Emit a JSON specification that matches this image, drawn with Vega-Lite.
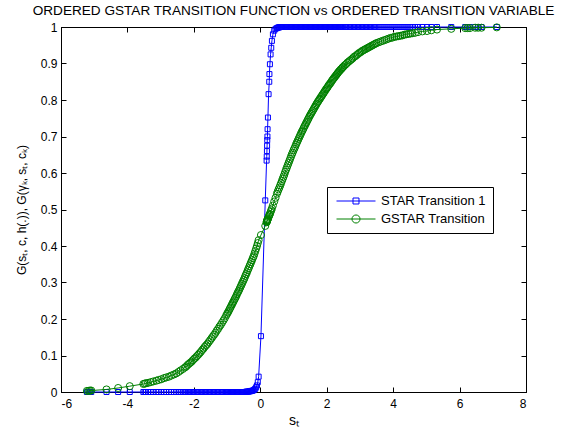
{
  "$schema": "https://vega.github.io/schema/vega-lite/v6.json",
  "width": 465,
  "height": 365,
  "autosize": {"type": "none"},
  "padding": {"left": 61, "top": 27, "right": 38, "bottom": 43},
  "background": "white",
  "config": {
    "font": "Liberation Sans",
    "view": {"stroke": "black", "strokeWidth": 1},
    "axis": {
      "grid": false,
      "domainColor": "black",
      "tickColor": "black",
      "labelColor": "black",
      "titleColor": "black",
      "labelFont": "Liberation Sans",
      "labelFontSize": 12,
      "tickSize": -5,
      "titleFont": "Liberation Sans",
      "titleFontWeight": "normal",
      "titleFontSize": 13
    }
  },
  "title": {
    "text": "ORDERED GSTAR TRANSITION FUNCTION vs ORDERED TRANSITION VARIABLE",
    "font": "Liberation Sans",
    "fontSize": 13.6,
    "fontWeight": "normal",
    "color": "black",
    "anchor": "middle",
    "baseline": "alphabetic",
    "offset": -8
  },
  "data": {
    "values": [
      {"s": -5.22, "star": 0, "gstar": 0.003},
      {"s": -5.17, "star": 0, "gstar": 0.003},
      {"s": -5.13, "star": 0, "gstar": 0.004},
      {"s": -5.09, "star": 0, "gstar": 0.004},
      {"s": -4.63, "star": 0, "gstar": 0.007},
      {"s": -4.28, "star": 0, "gstar": 0.011},
      {"s": -3.93, "star": 0, "gstar": 0.016},
      {"s": -3.52, "star": 0, "gstar": 0.022},
      {"s": -3.48, "star": 0, "gstar": 0.023},
      {"s": -3.44, "star": 0, "gstar": 0.024},
      {"s": -3.38, "star": 0, "gstar": 0.025},
      {"s": -3.30, "star": 0, "gstar": 0.027},
      {"s": -3.22, "star": 0, "gstar": 0.029},
      {"s": -3.13, "star": 0, "gstar": 0.031},
      {"s": -3.06, "star": 0, "gstar": 0.033},
      {"s": -2.98, "star": 0, "gstar": 0.035},
      {"s": -2.90, "star": 0, "gstar": 0.038},
      {"s": -2.83, "star": 0, "gstar": 0.040},
      {"s": -2.75, "star": 0, "gstar": 0.042},
      {"s": -2.68, "star": 0, "gstar": 0.045},
      {"s": -2.60, "star": 0, "gstar": 0.048},
      {"s": -2.53, "star": 0, "gstar": 0.051},
      {"s": -2.46, "star": 0, "gstar": 0.055},
      {"s": -2.40, "star": 0, "gstar": 0.059},
      {"s": -2.33, "star": 0, "gstar": 0.063},
      {"s": -2.27, "star": 0, "gstar": 0.067},
      {"s": -2.23, "star": 0, "gstar": 0.070},
      {"s": -2.19, "star": 0, "gstar": 0.074},
      {"s": -2.15, "star": 0, "gstar": 0.077},
      {"s": -2.11, "star": 0, "gstar": 0.080},
      {"s": -2.07, "star": 0, "gstar": 0.083},
      {"s": -2.03, "star": 0, "gstar": 0.087},
      {"s": -1.99, "star": 0, "gstar": 0.091},
      {"s": -1.95, "star": 0, "gstar": 0.094},
      {"s": -1.91, "star": 0, "gstar": 0.098},
      {"s": -1.87, "star": 0, "gstar": 0.102},
      {"s": -1.83, "star": 0, "gstar": 0.106},
      {"s": -1.79, "star": 0, "gstar": 0.110},
      {"s": -1.75, "star": 0, "gstar": 0.115},
      {"s": -1.71, "star": 0, "gstar": 0.119},
      {"s": -1.67, "star": 0, "gstar": 0.124},
      {"s": -1.63, "star": 0, "gstar": 0.128},
      {"s": -1.59, "star": 0, "gstar": 0.132},
      {"s": -1.55, "star": 0, "gstar": 0.137},
      {"s": -1.51, "star": 0, "gstar": 0.142},
      {"s": -1.47, "star": 0, "gstar": 0.147},
      {"s": -1.43, "star": 0, "gstar": 0.152},
      {"s": -1.39, "star": 0, "gstar": 0.157},
      {"s": -1.35, "star": 0, "gstar": 0.162},
      {"s": -1.31, "star": 0, "gstar": 0.168},
      {"s": -1.27, "star": 0, "gstar": 0.173},
      {"s": -1.23, "star": 0, "gstar": 0.179},
      {"s": -1.19, "star": 0, "gstar": 0.184},
      {"s": -1.15, "star": 0, "gstar": 0.190},
      {"s": -1.11, "star": 0, "gstar": 0.196},
      {"s": -1.07, "star": 0, "gstar": 0.202},
      {"s": -1.03, "star": 0, "gstar": 0.209},
      {"s": -1.000, "star": 0, "gstar": 0.214},
      {"s": -0.975, "star": 0, "gstar": 0.218},
      {"s": -0.950, "star": 0, "gstar": 0.222},
      {"s": -0.925, "star": 0, "gstar": 0.227},
      {"s": -0.900, "star": 0, "gstar": 0.231},
      {"s": -0.875, "star": 0, "gstar": 0.236},
      {"s": -0.850, "star": 0, "gstar": 0.240},
      {"s": -0.825, "star": 0, "gstar": 0.245},
      {"s": -0.800, "star": 0, "gstar": 0.249},
      {"s": -0.775, "star": 0, "gstar": 0.254},
      {"s": -0.750, "star": 0, "gstar": 0.258},
      {"s": -0.725, "star": 0, "gstar": 0.263},
      {"s": -0.700, "star": 0, "gstar": 0.268},
      {"s": -0.675, "star": 0, "gstar": 0.273},
      {"s": -0.650, "star": 0, "gstar": 0.277},
      {"s": -0.625, "star": 0, "gstar": 0.282},
      {"s": -0.600, "star": 0, "gstar": 0.287},
      {"s": -0.575, "star": 0, "gstar": 0.292},
      {"s": -0.550, "star": 0, "gstar": 0.297},
      {"s": -0.525, "star": 0, "gstar": 0.302},
      {"s": -0.500, "star": 0, "gstar": 0.307},
      {"s": -0.475, "star": 0, "gstar": 0.312},
      {"s": -0.450, "star": 0, "gstar": 0.318},
      {"s": -0.425, "star": 0.001, "gstar": 0.323},
      {"s": -0.400, "star": 0.001, "gstar": 0.328},
      {"s": -0.375, "star": 0.001, "gstar": 0.334},
      {"s": -0.350, "star": 0.001, "gstar": 0.339},
      {"s": -0.325, "star": 0.002, "gstar": 0.345},
      {"s": -0.300, "star": 0.002, "gstar": 0.350},
      {"s": -0.275, "star": 0.003, "gstar": 0.356},
      {"s": -0.250, "star": 0.003, "gstar": 0.361},
      {"s": -0.225, "star": 0.004, "gstar": 0.367},
      {"s": -0.200, "star": 0.005, "gstar": 0.372},
      {"s": -0.175, "star": 0.007, "gstar": 0.379},
      {"s": -0.150, "star": 0.009, "gstar": 0.386},
      {"s": -0.125, "star": 0.013, "gstar": 0.393},
      {"s": -0.100, "star": 0.018, "gstar": 0.400},
      {"s": -0.075, "star": 0.027, "gstar": 0.408},
      {"s": -0.050, "star": 0.042, "gstar": 0.416},
      {"s": 0.02, "star": 0.153, "gstar": 0.430},
      {"s": 0.15, "star": 0.525, "gstar": 0.455},
      {"s": 0.19, "star": 0.634, "gstar": 0.465},
      {"s": 0.195, "star": 0.645, "gstar": 0.466},
      {"s": 0.20, "star": 0.660, "gstar": 0.468},
      {"s": 0.205, "star": 0.675, "gstar": 0.469},
      {"s": 0.21, "star": 0.690, "gstar": 0.470},
      {"s": 0.215, "star": 0.700, "gstar": 0.471},
      {"s": 0.22, "star": 0.720, "gstar": 0.473},
      {"s": 0.23, "star": 0.752, "gstar": 0.475},
      {"s": 0.25, "star": 0.816, "gstar": 0.479},
      {"s": 0.27, "star": 0.850, "gstar": 0.484},
      {"s": 0.275, "star": 0.871, "gstar": 0.485},
      {"s": 0.29, "star": 0.898, "gstar": 0.488},
      {"s": 0.31, "star": 0.925, "gstar": 0.493},
      {"s": 0.33, "star": 0.943, "gstar": 0.498},
      {"s": 0.35, "star": 0.962, "gstar": 0.503},
      {"s": 0.38, "star": 0.980, "gstar": 0.511},
      {"s": 0.42, "star": 0.990, "gstar": 0.522},
      {"s": 0.46, "star": 0.995, "gstar": 0.532},
      {"s": 0.50, "star": 0.997, "gstar": 0.543},
      {"s": 0.525, "star": 0.998, "gstar": 0.549},
      {"s": 0.550, "star": 0.999, "gstar": 0.555},
      {"s": 0.575, "star": 0.999, "gstar": 0.560},
      {"s": 0.600, "star": 1, "gstar": 0.566},
      {"s": 0.625, "star": 1, "gstar": 0.572},
      {"s": 0.650, "star": 1, "gstar": 0.578},
      {"s": 0.675, "star": 1, "gstar": 0.584},
      {"s": 0.700, "star": 1, "gstar": 0.590},
      {"s": 0.725, "star": 1, "gstar": 0.596},
      {"s": 0.750, "star": 1, "gstar": 0.603},
      {"s": 0.775, "star": 1, "gstar": 0.609},
      {"s": 0.800, "star": 1, "gstar": 0.615},
      {"s": 0.825, "star": 1, "gstar": 0.621},
      {"s": 0.850, "star": 1, "gstar": 0.627},
      {"s": 0.875, "star": 1, "gstar": 0.633},
      {"s": 0.900, "star": 1, "gstar": 0.639},
      {"s": 0.925, "star": 1, "gstar": 0.645},
      {"s": 0.950, "star": 1, "gstar": 0.651},
      {"s": 0.975, "star": 1, "gstar": 0.656},
      {"s": 1.000, "star": 1, "gstar": 0.662},
      {"s": 1.025, "star": 1, "gstar": 0.667},
      {"s": 1.050, "star": 1, "gstar": 0.672},
      {"s": 1.075, "star": 1, "gstar": 0.678},
      {"s": 1.100, "star": 1, "gstar": 0.683},
      {"s": 1.125, "star": 1, "gstar": 0.688},
      {"s": 1.150, "star": 1, "gstar": 0.693},
      {"s": 1.175, "star": 1, "gstar": 0.698},
      {"s": 1.200, "star": 1, "gstar": 0.703},
      {"s": 1.225, "star": 1, "gstar": 0.708},
      {"s": 1.250, "star": 1, "gstar": 0.713},
      {"s": 1.275, "star": 1, "gstar": 0.717},
      {"s": 1.300, "star": 1, "gstar": 0.722},
      {"s": 1.325, "star": 1, "gstar": 0.727},
      {"s": 1.350, "star": 1, "gstar": 0.731},
      {"s": 1.375, "star": 1, "gstar": 0.736},
      {"s": 1.400, "star": 1, "gstar": 0.740},
      {"s": 1.425, "star": 1, "gstar": 0.745},
      {"s": 1.450, "star": 1, "gstar": 0.749},
      {"s": 1.475, "star": 1, "gstar": 0.754},
      {"s": 1.500, "star": 1, "gstar": 0.758},
      {"s": 1.525, "star": 1, "gstar": 0.762},
      {"s": 1.550, "star": 1, "gstar": 0.766},
      {"s": 1.575, "star": 1, "gstar": 0.770},
      {"s": 1.600, "star": 1, "gstar": 0.774},
      {"s": 1.625, "star": 1, "gstar": 0.778},
      {"s": 1.650, "star": 1, "gstar": 0.782},
      {"s": 1.675, "star": 1, "gstar": 0.786},
      {"s": 1.700, "star": 1, "gstar": 0.790},
      {"s": 1.725, "star": 1, "gstar": 0.794},
      {"s": 1.750, "star": 1, "gstar": 0.797},
      {"s": 1.775, "star": 1, "gstar": 0.801},
      {"s": 1.800, "star": 1, "gstar": 0.804},
      {"s": 1.825, "star": 1, "gstar": 0.808},
      {"s": 1.850, "star": 1, "gstar": 0.811},
      {"s": 1.875, "star": 1, "gstar": 0.815},
      {"s": 1.900, "star": 1, "gstar": 0.818},
      {"s": 1.925, "star": 1, "gstar": 0.822},
      {"s": 1.950, "star": 1, "gstar": 0.825},
      {"s": 1.975, "star": 1, "gstar": 0.829},
      {"s": 2.000, "star": 1, "gstar": 0.832},
      {"s": 2.025, "star": 1, "gstar": 0.835},
      {"s": 2.050, "star": 1, "gstar": 0.839},
      {"s": 2.075, "star": 1, "gstar": 0.842},
      {"s": 2.100, "star": 1, "gstar": 0.845},
      {"s": 2.125, "star": 1, "gstar": 0.848},
      {"s": 2.150, "star": 1, "gstar": 0.852},
      {"s": 2.175, "star": 1, "gstar": 0.855},
      {"s": 2.200, "star": 1, "gstar": 0.858},
      {"s": 2.225, "star": 1, "gstar": 0.861},
      {"s": 2.250, "star": 1, "gstar": 0.864},
      {"s": 2.275, "star": 1, "gstar": 0.867},
      {"s": 2.300, "star": 1, "gstar": 0.870},
      {"s": 2.325, "star": 1, "gstar": 0.873},
      {"s": 2.350, "star": 1, "gstar": 0.876},
      {"s": 2.375, "star": 1, "gstar": 0.879},
      {"s": 2.400, "star": 1, "gstar": 0.881},
      {"s": 2.425, "star": 1, "gstar": 0.884},
      {"s": 2.450, "star": 1, "gstar": 0.886},
      {"s": 2.475, "star": 1, "gstar": 0.889},
      {"s": 2.500, "star": 1, "gstar": 0.891},
      {"s": 2.54, "star": 1, "gstar": 0.895},
      {"s": 2.58, "star": 1, "gstar": 0.898},
      {"s": 2.62, "star": 1, "gstar": 0.902},
      {"s": 2.66, "star": 1, "gstar": 0.905},
      {"s": 2.70, "star": 1, "gstar": 0.908},
      {"s": 2.74, "star": 1, "gstar": 0.911},
      {"s": 2.78, "star": 1, "gstar": 0.914},
      {"s": 2.82, "star": 1, "gstar": 0.918},
      {"s": 2.86, "star": 1, "gstar": 0.920},
      {"s": 2.90, "star": 1, "gstar": 0.923},
      {"s": 2.94, "star": 1, "gstar": 0.926},
      {"s": 2.98, "star": 1, "gstar": 0.929},
      {"s": 3.02, "star": 1, "gstar": 0.931},
      {"s": 3.06, "star": 1, "gstar": 0.934},
      {"s": 3.10, "star": 1, "gstar": 0.936},
      {"s": 3.14, "star": 1, "gstar": 0.938},
      {"s": 3.18, "star": 1, "gstar": 0.940},
      {"s": 3.22, "star": 1, "gstar": 0.942},
      {"s": 3.26, "star": 1, "gstar": 0.944},
      {"s": 3.30, "star": 1, "gstar": 0.946},
      {"s": 3.34, "star": 1, "gstar": 0.948},
      {"s": 3.38, "star": 1, "gstar": 0.950},
      {"s": 3.42, "star": 1, "gstar": 0.952},
      {"s": 3.46, "star": 1, "gstar": 0.954},
      {"s": 3.50, "star": 1, "gstar": 0.956},
      {"s": 3.56, "star": 1, "gstar": 0.958},
      {"s": 3.62, "star": 1, "gstar": 0.960},
      {"s": 3.68, "star": 1, "gstar": 0.962},
      {"s": 3.74, "star": 1, "gstar": 0.964},
      {"s": 3.80, "star": 1, "gstar": 0.966},
      {"s": 3.86, "star": 1, "gstar": 0.968},
      {"s": 3.92, "star": 1, "gstar": 0.970},
      {"s": 3.98, "star": 1, "gstar": 0.971},
      {"s": 4.04, "star": 1, "gstar": 0.973},
      {"s": 4.10, "star": 1, "gstar": 0.974},
      {"s": 4.16, "star": 1, "gstar": 0.975},
      {"s": 4.22, "star": 1, "gstar": 0.976},
      {"s": 4.28, "star": 1, "gstar": 0.977},
      {"s": 4.34, "star": 1, "gstar": 0.979},
      {"s": 4.40, "star": 1, "gstar": 0.980},
      {"s": 4.46, "star": 1, "gstar": 0.981},
      {"s": 4.52, "star": 1, "gstar": 0.982},
      {"s": 4.58, "star": 1, "gstar": 0.983},
      {"s": 4.66, "star": 1, "gstar": 0.984},
      {"s": 4.75, "star": 1, "gstar": 0.986},
      {"s": 4.88, "star": 1, "gstar": 0.988},
      {"s": 5.02, "star": 1, "gstar": 0.989},
      {"s": 5.15, "star": 1, "gstar": 0.991},
      {"s": 5.32, "star": 1, "gstar": 0.993},
      {"s": 5.75, "star": 1, "gstar": 0.995},
      {"s": 6.17, "star": 1, "gstar": 0.997},
      {"s": 6.24, "star": 1, "gstar": 0.997},
      {"s": 6.31, "star": 1, "gstar": 0.997},
      {"s": 6.47, "star": 1, "gstar": 0.998},
      {"s": 6.56, "star": 1, "gstar": 0.998},
      {"s": 6.66, "star": 1, "gstar": 0.998},
      {"s": 7.12, "star": 1, "gstar": 0.999}
    ]
  },
  "layer": [
    {
      "mark": {"type": "line", "color": "#0000ff", "strokeWidth": 1},
      "encoding": {
        "x": {
          "field": "s", "type": "quantitative",
          "scale": {"domain": [-6, 8], "nice": false, "zero": false},
          "axis": {
            "values": [-6, -4, -2, 0, 2, 4, 6, 8],
            "title": "sₜ",
            "titleFontSize": 14,
            "labelExpr": "replace(datum.label, '−', '-')",
            "labelPadding": 11,
            "titlePadding": 4
          }
        },
        "y": {
          "field": "star", "type": "quantitative",
          "scale": {"domain": [0, 1], "nice": false, "zero": false},
          "axis": {
            "values": [0, 0.1, 0.2, 0.3, 0.4, 0.5, 0.6, 0.7, 0.8, 0.9, 1],
            "format": "~g",
            "title": "G(sₜ, c, h(.)),  G(γₖ, sₜ, cₖ)",
            "titleFontSize": 12,
            "labelPadding": 9,
            "titlePadding": 12
          }
        }
      }
    },
    {
      "mark": {"type": "point", "shape": "square", "filled": false, "color": "#0000ff", "size": 25, "strokeWidth": 1, "opacity": 1},
      "encoding": {
        "x": {"field": "s", "type": "quantitative", "axis": null},
        "y": {"field": "star", "type": "quantitative", "axis": null}
      }
    },
    {
      "mark": {"type": "line", "color": "#008000", "strokeWidth": 1},
      "encoding": {
        "x": {
          "field": "s", "type": "quantitative",
          "axis": {"orient": "top", "labels": false, "title": null, "values": [-6, -4, -2, 0, 2, 4, 6, 8]}
        },
        "y": {
          "field": "gstar", "type": "quantitative",
          "axis": {"orient": "right", "labels": false, "title": null, "values": [0, 0.1, 0.2, 0.3, 0.4, 0.5, 0.6, 0.7, 0.8, 0.9, 1]}
        }
      }
    },
    {
      "mark": {"type": "point", "shape": "circle", "filled": false, "color": "#008000", "size": 50, "strokeWidth": 1, "opacity": 1},
      "encoding": {
        "x": {"field": "s", "type": "quantitative", "axis": null},
        "y": {"field": "gstar", "type": "quantitative", "axis": null}
      }
    },
    {
      "transform": [{"fold": ["star", "gstar"], "as": ["series", "G"]}],
      "mark": {"type": "point", "filled": false, "opacity": 0, "size": 169, "strokeWidth": 1},
      "encoding": {
        "x": {"field": "s", "type": "quantitative", "axis": null},
        "y": {"field": "G", "type": "quantitative", "axis": null},
        "color": {
          "field": "series", "type": "nominal",
          "scale": {"domain": ["star", "gstar"], "range": ["#0000ff", "#008000"]},
          "legend": {
            "title": null,
            "orient": "none",
            "legendX": 266,
            "legendY": 160,
            "padding": 7,
            "rowPadding": 4,
            "symbolOffset": 15,
            "labelOffset": 18,
            "strokeColor": "black",
            "fillColor": "white",
            "labelFont": "Liberation Sans",
            "labelFontSize": 13,
            "labelColor": "black",
            "symbolOpacity": 1,
            "symbolStrokeWidth": 1,
            "symbolSize": 169,
            "labelExpr": "datum.label == 'star' ? 'STAR Transition 1' : 'GSTAR Transition'"
          }
        },
        "shape": {
          "field": "series", "type": "nominal",
          "scale": {
            "domain": ["star", "gstar"],
            "range": [
              "M-3,0H3M-0.46,-0.46H0.46V0.46H-0.46Z",
              "M-3,0H3M0.62,0A0.62,0.62 0 1 1 -0.62,0A0.62,0.62 0 1 1 0.62,0"
            ]
          },
          "legend": {
            "title": null,
            "orient": "none",
            "legendX": 266,
            "legendY": 160,
            "padding": 7,
            "rowPadding": 4,
            "symbolOffset": 15,
            "labelOffset": 18,
            "strokeColor": "black",
            "fillColor": "white",
            "labelFont": "Liberation Sans",
            "labelFontSize": 13,
            "labelColor": "black",
            "symbolOpacity": 1,
            "symbolStrokeWidth": 1,
            "symbolSize": 169,
            "labelExpr": "datum.label == 'star' ? 'STAR Transition 1' : 'GSTAR Transition'"
          }
        }
      }
    }
  ],
  "resolve": {"axis": {"x": "independent", "y": "independent"}}
}
